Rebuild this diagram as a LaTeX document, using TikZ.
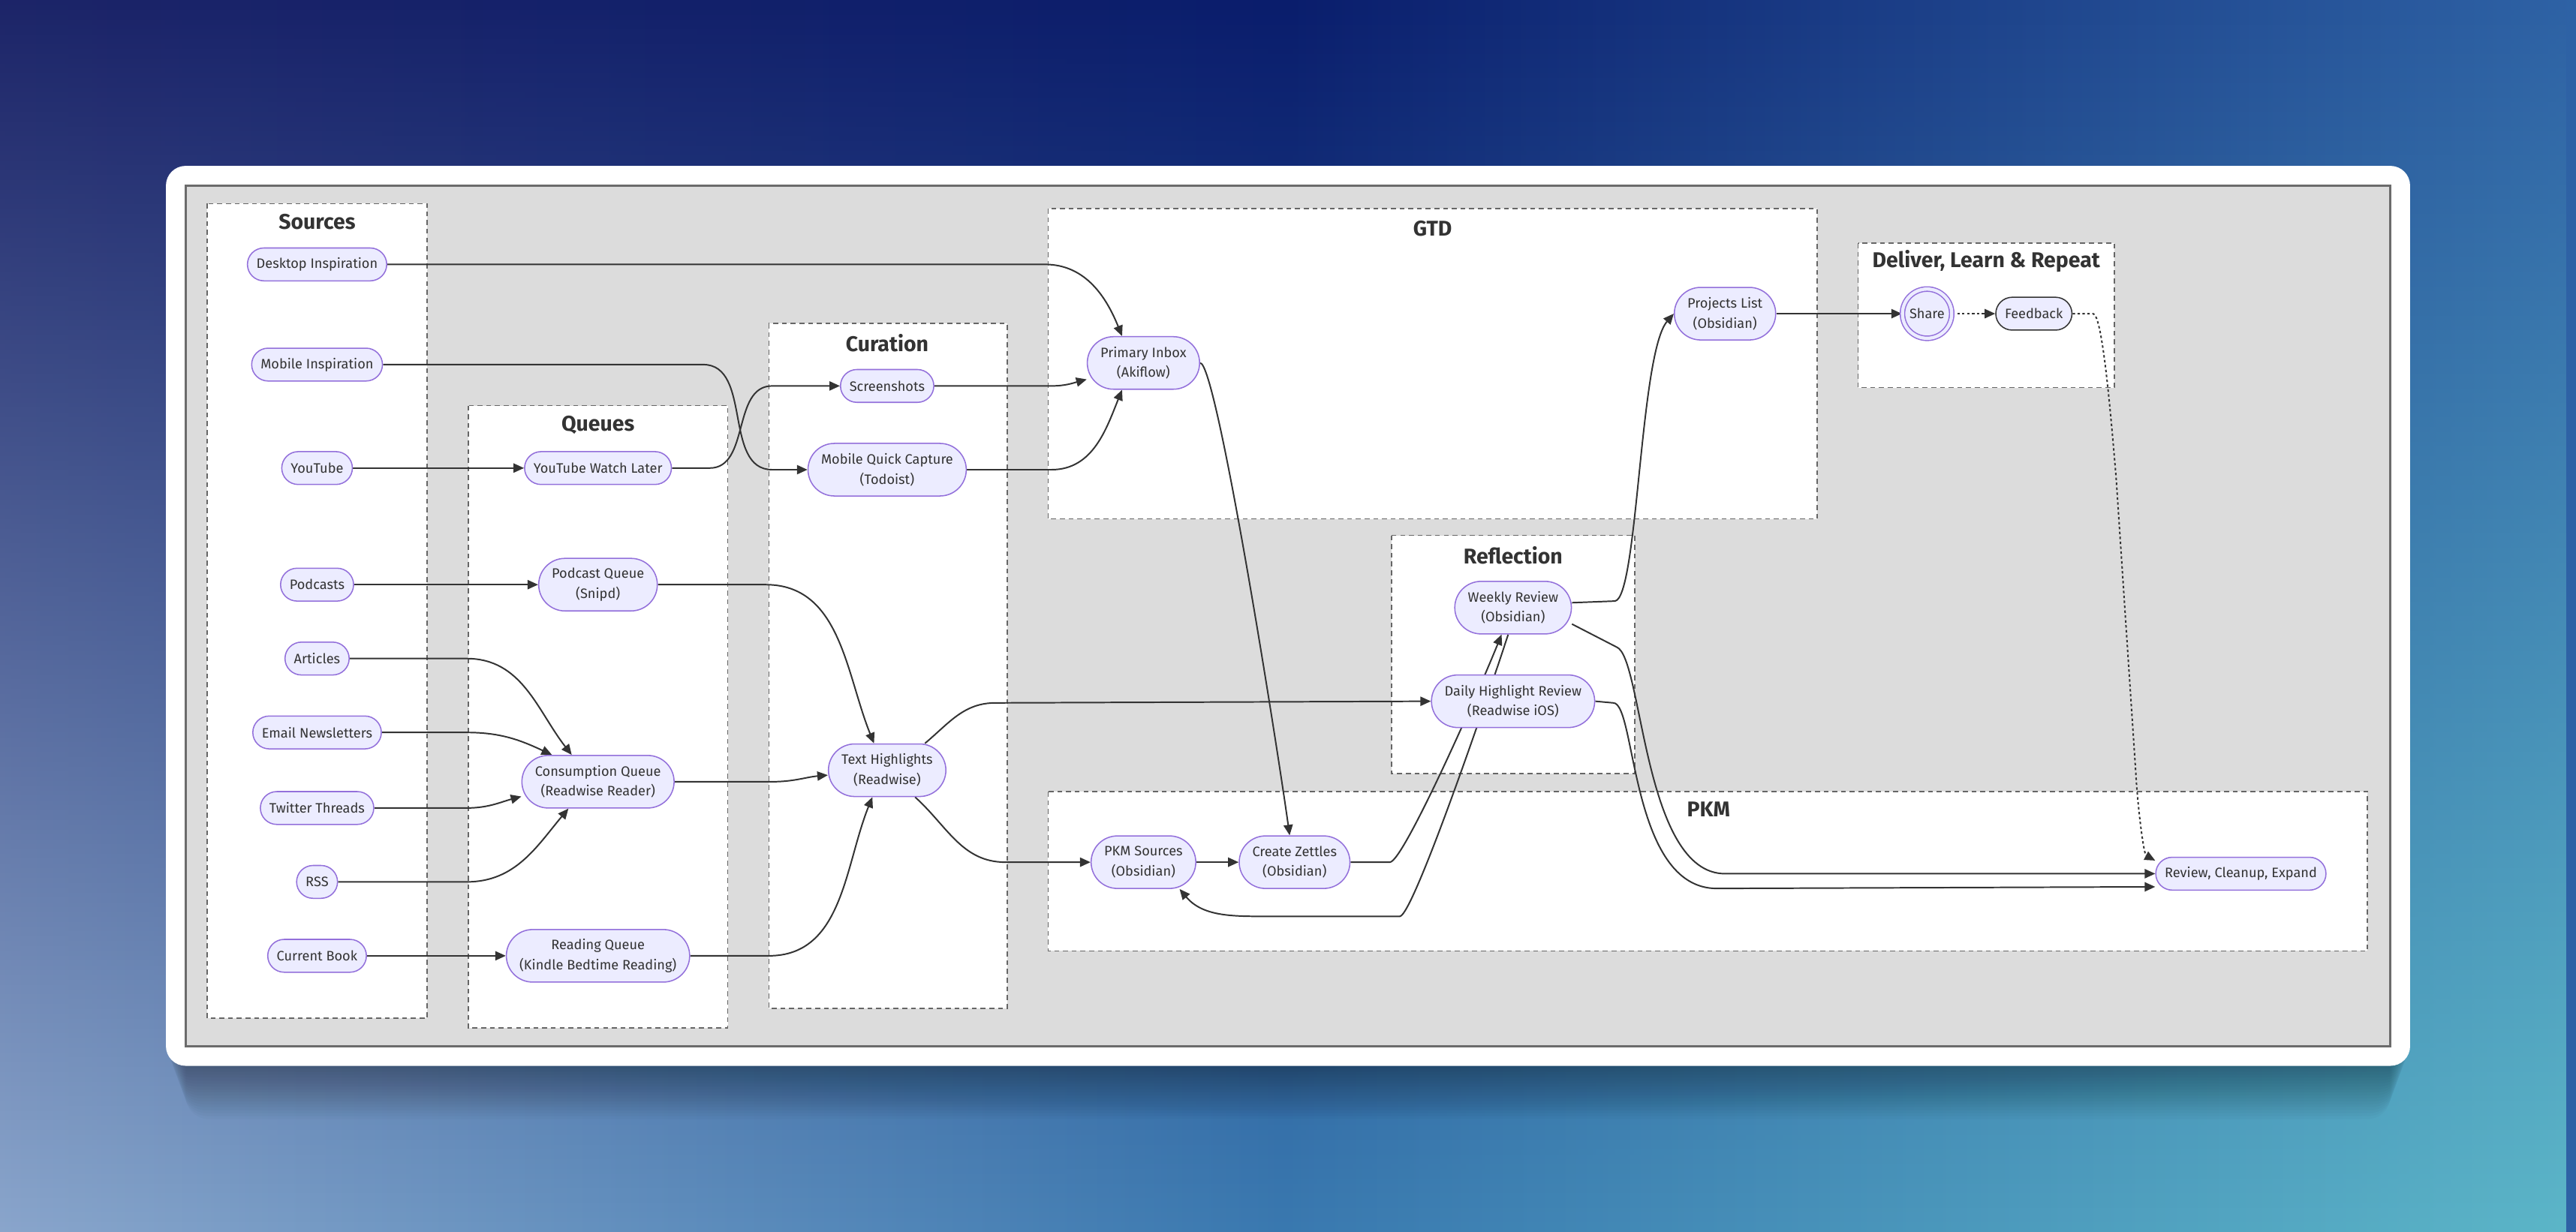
\documentclass[tikz,border=0pt]{standalone}
\usepackage{fontspec}
\setmainfont{Fira Sans}
\usepackage{xcolor}
\usepackage{tikz}
\usetikzlibrary{arrows.meta}
\usetikzlibrary{fadings}
\usetikzlibrary{backgrounds}

\definecolor{nodefill}{HTML}{ECECFF}
\definecolor{nodeline}{HTML}{9370DB}
\definecolor{textgrey}{HTML}{333333}
\definecolor{linegrey}{HTML}{333333}
\definecolor{groupline}{HTML}{666666}
\definecolor{canvasgrey}{HTML}{DCDCDC}
\definecolor{frameline}{HTML}{6B6B6B}
\definecolor{skytopleft}{HTML}{1C2468}
\definecolor{skytopmid}{HTML}{0A1D6C}
\definecolor{skytopright}{HTML}{2E62A5}
\definecolor{skybotleft}{HTML}{8AA6CC}
\definecolor{skybotmid}{HTML}{3A79B0}
\definecolor{skybotright}{HTML}{5CB6C8}

\tikzfading[name=fadeup, top color=transparent!100, bottom color=transparent!0]

\newcommand{\nodefont}{\fontsize{8.3}{12.2}\selectfont}
\newcommand{\titlefont}{\fontsize{13}{15}\selectfont\bfseries}

\pgfdeclarelayer{back}
\pgfdeclarelayer{wires}
\pgfsetlayers{back,wires,main}

\begin{document}
\begin{tikzpicture}[x=1pt, y=1pt, >={Triangle[length=6.4pt, width=5.6pt]},
	box/.style={rectangle, rounded corners=10pt, draw=nodeline, fill=nodefill, line width=0.7pt,
		text=textgrey, font=\nodefont, minimum height=20pt, inner xsep=5.5pt, inner ysep=0pt, align=center},
	boxtwo/.style={box, rounded corners=16pt, minimum height=32pt, inner xsep=8pt},
	group/.style={draw=groupline, fill=white, line width=0.7pt, dash pattern=on 3pt off 2.3pt},
	grouptitle/.style={font=\titlefont, text=textgrey},
	link/.style={->, draw=linegrey, line width=0.9pt},
	dotlink/.style={link, dash pattern=on 1.5pt off 1.5pt},
]
\useasboundingbox (0,0) rectangle (1568,-750);

% Sources
\node [box] (desk)   at (193,-161) {Desktop Inspiration};
\node [box] (mobile) at (193,-222) {Mobile Inspiration};
\node [box] (yt)     at (193,-285) {YouTube};
\node [box] (pod)    at (193,-356) {Podcasts};
\node [box] (art)    at (193,-401) {Articles};
\node [box] (mail)   at (193,-446) {Email Newsletters};
\node [box] (tw)     at (193,-492) {Twitter Threads};
\node [box] (rss)    at (193,-537) {RSS};
\node [box] (book)   at (193,-582) {Current Book};
% Queues
\node [box]    (ytq)   at (364,-285) {YouTube Watch Later};
\node [boxtwo] (podq)  at (364,-356) {Podcast Queue\\(Snipd)};
\node [boxtwo] (conq)  at (364,-476) {Consumption Queue\\(Readwise Reader)};
\node [boxtwo] (readq) at (364,-582) {Reading Queue\\(Kindle Bedtime Reading)};
% Curation
\node [box]    (shots) at (540,-235) {Screenshots};
\node [boxtwo] (mqc)   at (540,-286) {Mobile Quick Capture\\(Todoist)};
\node [boxtwo] (hl)    at (540,-469) {Text Highlights\\(Readwise)};
% GTD
\node [boxtwo] (inbox) at (696,-221) {Primary Inbox\\(Akiflow)};
\node [boxtwo] (proj)  at (1050,-191) {Projects List\\(Obsidian)};
% Reflection
\node [boxtwo] (weekly) at (921,-370) {Weekly Review\\(Obsidian)};
\node [boxtwo] (daily)  at (921,-427) {Daily Highlight Review\\(Readwise iOS)};
% Deliver
\node [box, circle, double=nodefill, double distance=2pt, minimum size=30pt, inner sep=0pt] (share) at (1173,-191) {Share};
\node [box, draw=linegrey] (fb) at (1238,-191) {Feedback};
% PKM
\node [boxtwo] (pkmsrc) at (696,-525) {PKM Sources\\(Obsidian)};
\node [boxtwo] (zettel) at (788,-525) {Create Zettles\\(Obsidian)};
\node [box]    (rce)    at (1364,-532) {Review, Cleanup, Expand};

\begin{pgfonlayer}{back}
\shade [left color=skytopleft, right color=skytopright, middle color=skytopmid] (0,0) rectangle (1568,-750);
\shade [left color=skybotleft, right color=skybotright, middle color=skybotmid, path fading=fadeup] (0,0) rectangle (1568,-750);
\foreach \d in {2,4,...,36}
	\fill [black, opacity=0.02, rounded corners=14pt] (101+\d/3,-120) rectangle (1467-\d/3,-649-\d*0.9);
\fill [white, rounded corners=12pt] (101,-101) rectangle (1467,-649);
\draw [frameline, fill=canvasgrey, line width=1.5pt] (113,-113) rectangle (1455,-637);
%
\draw [group] (126,-124) rectangle (260,-620);
\draw [group] (285,-247) rectangle (443,-626);
\draw [group] (468,-197) rectangle (613,-614);
\draw [group] (638,-127) rectangle (1106,-316);
\draw [group] (847,-326) rectangle (995,-471);
\draw [group] (1131,-148) rectangle (1287,-236);
\draw [group] (638,-482) rectangle (1441,-579);
\node [grouptitle] (srctitle)  at (193,-135)  {Sources};
\node [grouptitle] (quetitle)  at (364,-259)  {Queues};
\node [grouptitle] (curtitle)  at (540,-209)  {Curation};
\node [grouptitle] (gtdtitle)  at (872,-139)  {GTD};
\node [grouptitle] (reftitle)  at (921,-338)  {Reflection};
\node [grouptitle] (deltitle)  at (1209,-159) {Deliver, Learn \& Repeat};
\node [grouptitle] (pkmtitle)  at (1040,-493) {PKM};
\end{pgfonlayer}

\begin{pgfonlayer}{wires}
\draw [link] (desk.east) -- (636,-161) to[out=0,in=112] ([xshift=-13pt]inbox.north);
\draw [link] (mobile.east) -- (428,-222) to[out=0,in=180] (470,-286) -- (mqc.west);
\draw [link] (yt) -- (ytq);
\draw [link] (ytq.east) -- (432,-285) to[out=0,in=180] (470,-235) -- (shots.west);
\draw [link] (pod) -- (podq);
\draw [link] (art.east) -- (284,-401) to[out=0,in=128] ([xshift=-16pt]conq.north);
\draw [link] (mail.east) -- (284,-446) to[out=0,in=155] ([xshift=-28pt]conq.north);
\draw [link] (tw.east) -- (284,-492) to[out=0,in=195] ([yshift=-9pt]conq.west);
\draw [link] (rss.east) -- (284,-537) to[out=0,in=-130] ([xshift=-18pt]conq.south);
\draw [link] (book) -- (readq);
\draw [link] (podq.east) -- (466,-356) to[out=0,in=112] ([xshift=-8pt]hl.north);
\draw [link] (conq.east) -- (470,-476) to[out=0,in=185] ([yshift=-3pt]hl.west);
\draw [link] (readq.east) -- (468,-582) to[out=0,in=-112] ([xshift=-9pt]hl.south);
\draw [link] (shots.east) -- (640,-235) to[out=0,in=195] ([yshift=-10pt]inbox.west);
\draw [link] (mqc.east) -- (640,-286) to[out=0,in=-112] ([xshift=-13pt]inbox.south);
\draw [link] (inbox.east) to[out=0,in=98, out distance=10pt, in distance=60pt] ([xshift=-3pt]zettel.north);
\draw [link] ([xshift=23pt]hl.north) to[out=40,in=180] (606,-428) -- (daily.west);
\draw [link] ([xshift=17pt]hl.south) to[out=-42,in=180] (612,-525) -- (pkmsrc.west);
\draw [link] (pkmsrc) -- (zettel);
\draw [link] (zettel.east) -- (846,-525) to[out=0,in=-112, out distance=8pt, in distance=40pt] ([xshift=-7pt]weekly.south);
\draw [link] ([xshift=-3pt]weekly.south) to[out=-108,in=0, out distance=40pt, in distance=8pt] (852,-558) -- (770,-558) to[out=180,in=-50] ([xshift=22pt]pkmsrc.south);
\draw [link] ([yshift=3pt]weekly.east) -- (983,-366) .. controls (997,-364) and (998,-215) .. (proj.west);
\draw [link] ([yshift=-10pt]weekly.east) -- (984,-394) .. controls (1000,-400) and (1000,-532) .. (1050,-532) -- (rce.west);
\draw [link] (daily.east) -- (982,-428) .. controls (996,-428) and (992,-541) .. (1045,-541) -- ([yshift=-8pt]rce.west);
\draw [link] (proj) -- (share);
\draw [dotlink] (share) -- (fb);
\draw [dotlink] (fb.east) -- (1274,-191) to[out=0,in=95, out distance=6pt, in distance=30pt] (1288,-290) -- (1300,-470) to[out=-87,in=152, out distance=20pt, in distance=8pt] ([yshift=8pt]rce.west);
\end{pgfonlayer}
\end{tikzpicture}
\end{document}
